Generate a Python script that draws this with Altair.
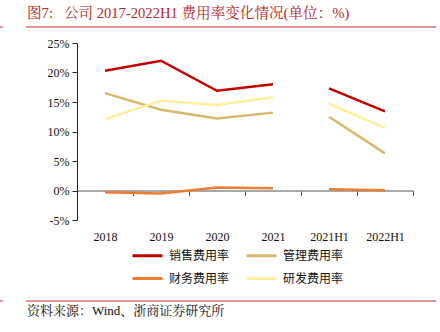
import altair as alt
import pandas as pd

periods = ["2018", "2019", "2020", "2021", "2021H1", "2022H1"]
segments = ["年度", "年度", "年度", "年度", "半年", "半年"]
series_names = ["销售费用率", "管理费用率", "财务费用率", "研发费用率"]
colors = ["#c00000", "#d8b96c", "#ed7d31", "#fff09e"]
sales = [20.3, 22.0, 16.9, 18.0, 17.3, 13.4]
admin = [16.5, 13.7, 12.2, 13.2, 12.5, 6.3]
finance = [-0.3, -0.5, 0.5, 0.4, 0.2, 0.05]
rnd = [12.1, 15.2, 14.5, 15.8, 14.7, 10.6]
y_ticks = [-5, 0, 5, 10, 15, 20, 25]

title_text = "图7:\u00a0\u00a0\u00a0公司 2017-2022H1 费用率变化情况(单位：%)"
source_text = "资料来源：Wind、浙商证券研究所"

rows = []
for name, vals in zip(series_names, [sales, admin, finance, rnd]):
    for p, s, v in zip(periods, segments, vals):
        rows.append({"期间": p, "段": s, "系列": name, "值": v})
df = pd.DataFrame(rows)

W, H = 336, 177
serif = "Liberation Serif, Noto Serif CJK SC, Noto Sans CJK SC"
cjk = "Noto Sans CJK SC"

x_enc = alt.X(
    "期间:N", sort=periods, bandPosition=0.5,
    scale=alt.Scale(type="band", paddingInner=0, paddingOuter=0),
    axis=alt.Axis(
        title=None, labelAngle=0, orient="bottom", offset=-29.5,
        domainColor="#8c8c8c", domainWidth=1.5, tickColor="#555555",
        tickSize=5, tickBand="extent", labelPadding=36,
        labelFont=serif, labelFontSize=12, labelColor="#111111",
    ),
)
y_enc = alt.Y(
    "值:Q",
    scale=alt.Scale(domain=[-5, 25], nice=False, zero=False),
    axis=alt.Axis(
        title=None, values=y_ticks, grid=False, labelExpr="datum.value + '%'",
        domainColor="#222222", tickColor="#222222", tickSize=5,
        labelFont=serif, labelFontSize=12, labelColor="#111111", labelPadding=3,
    ),
)

lines = alt.Chart(df).mark_line(strokeWidth=2.5).encode(
    x=x_enc,
    y=y_enc,
    color=alt.Color(
        "系列:N", sort=series_names,
        scale=alt.Scale(domain=series_names, range=colors),
        legend=alt.Legend(
            title=None, orient="none", legendX=54, legendY=196, columns=2,
            direction="horizontal",
            symbolType="stroke", symbolSize=900, symbolStrokeWidth=3,
            labelFont=cjk, labelFontSize=12, labelColor="#111111",
            labelOffset=5, columnPadding=10, rowPadding=-4, padding=0,
        ),
    ),
    detail="段:N",
    order=alt.Order("期间:N"),
)

deco = alt.Data(values=[{}])
title_mark = alt.Chart(deco).mark_text(
    text=title_text, align="left", baseline="middle", font=serif,
    fontSize=14.6, color="#b4262a",
).encode(x=alt.value(-50), y=alt.value(-29))
title_rule = alt.Chart(deco).mark_rule(color="#c0292b", strokeWidth=1).encode(
    x=alt.value(-51), x2=alt.value(359), y=alt.value(-16)
)
title_stub = alt.Chart(deco).mark_rule(color="#c0292b", strokeWidth=1).encode(
    x=alt.value(-77), x2=alt.value(-74), y=alt.value(-16)
)
source_rule = alt.Chart(deco).mark_rule(color="#c0292b", strokeWidth=1).encode(
    x=alt.value(-51), x2=alt.value(359), y=alt.value(258)
)
source_stub = alt.Chart(deco).mark_rule(color="#c0292b", strokeWidth=1).encode(
    x=alt.value(-77), x2=alt.value(-74), y=alt.value(258)
)
source_mark = alt.Chart(deco).mark_text(
    text=source_text, align="left", baseline="middle", font=serif,
    fontSize=13, color="#111111",
).encode(x=alt.value(-50), y=alt.value(268))

chart = alt.layer(
    lines, title_mark, title_rule, title_stub, source_rule, source_stub, source_mark
).properties(
    width=W, height=H,
    autosize=alt.AutoSizeParams(type="none"),
    padding={"left": 77, "top": 43, "right": 27, "bottom": 112},
    background="white",
).configure_view(stroke=None)

chart.save("out.html", embed_options={"renderer": "svg", "actions": False})
